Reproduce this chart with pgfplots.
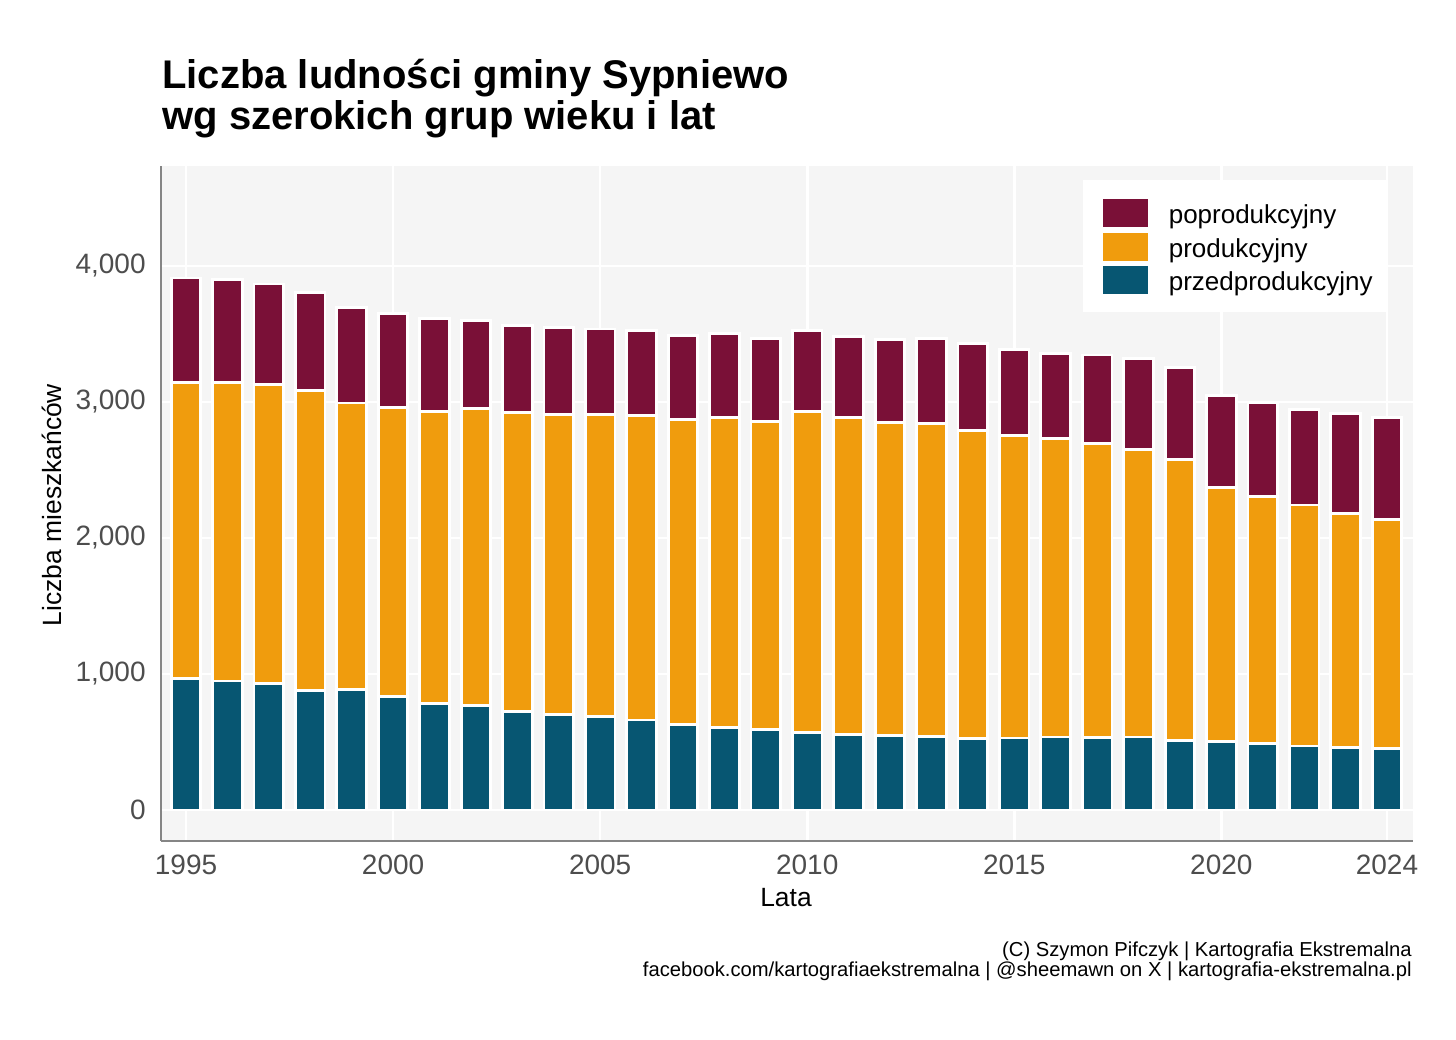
\documentclass[border=0pt]{standalone}
\usepackage{pgfplots}
\pgfplotsset{compat=1.18}
\usepackage{pgfplotstable}
\usepackage{fontspec}
\setmainfont{Liberation Sans}
\definecolor{cpost}{HTML}{7A1037}
\definecolor{cprod}{HTML}{F09C0D}
\definecolor{cpre}{HTML}{075672}
\definecolor{panel}{HTML}{F5F5F5}
\definecolor{axisgray}{HTML}{858585}
\definecolor{ticktext}{HTML}{4D4D4D}

\pgfplotstableread{
year pre prod post
1995 969 2176 766
1996 949 2196 753
1997 929 2201 738
1998 880 2202 723
1999 883 2110 699
2000 834 2123 693
2001 782 2150 679
2002 768 2181 652
2003 724 2196 644
2004 704 2206 635
2005 687 2218 632
2006 662 2241 622
2007 626 2245 615
2008 609 2276 621
2009 589 2269 608
2010 572 2355 596
2011 557 2328 596
2012 547 2304 608
2013 542 2299 623
2014 523 2267 639
2015 530 2226 629
2016 537 2194 627
2017 535 2162 649
2018 537 2113 667
2019 513 2064 674
2020 501 1870 674
2021 491 1813 694
2022 471 1772 704
2023 459 1723 733
2024 451 1684 748
}\data

\begin{document}
\begin{tikzpicture}
\useasboundingbox (0,0) rectangle (728bp,520bp);
\begin{axis}[
  at={(80.5bp,99.5bp)}, anchor=south west,
  width=625.75bp, height=337.5bp, scale only axis,
  xmin=1994.396, xmax=2024.616, ymin=-228, ymax=4735,
  ybar stacked, bar width=14.8bp,
  axis background/.style={fill=panel},
  axis x line*=bottom, axis y line*=left,
  axis line style={draw=axisgray, line width=1bp},
  major tick length=0pt,
  grid=major, major grid style={draw=white, line width=1.3bp},
  xtick={1995,2000,2005,2010,2015,2020,2024},
  xticklabels={1995,2000,2005,2010,2015,2020,2024},
  ytick={0,1000,2000,3000,4000},
  yticklabels={0,{1,000},{2,000},{3,000},{4,000}},
  xticklabel style={font=\fontsize{14bp}{14bp}\selectfont, text=ticktext, inner sep=0pt, anchor=north, yshift=-7bp},
  yticklabel style={font=\fontsize{14bp}{14bp}\selectfont, text=ticktext, inner sep=0pt, anchor=east, xshift=-7.5bp},
  legend style={at={(0.9796,0.9793)}, anchor=north east, draw=none, fill=white,
    inner xsep=7bp, inner ysep=7.7bp,
    font=\fontsize{13bp}{13bp}\selectfont,
    nodes={inner sep=0pt, text height=13.95bp, text depth=2.8bp},
    /tikz/every odd column/.style={column sep=10.5bp}},
  legend cell align=left,
  reverse legend,
]
\addplot[fill=cpre, draw=white, line width=1.4bp,
  legend image code/.code={\path (0bp,0bp); \fill[cpre] (3bp,-6.6bp) rectangle (24bp,5.9bp);}]
  table[x=year, y=pre]{\data};
\addplot[fill=cprod, draw=white, line width=1.4bp,
  legend image code/.code={\path (0bp,0bp); \fill[cprod] (3bp,-6.6bp) rectangle (24bp,5.9bp);}]
  table[x=year, y=prod]{\data};
\addplot[fill=cpost, draw=white, line width=1.4bp,
  legend image code/.code={\path (0bp,0bp); \fill[cpost] (3bp,-6.6bp) rectangle (24bp,5.9bp);}]
  table[x=year, y=post]{\data};
\legend{przedprodukcyjny, produkcyjny, poprodukcyjny}
\end{axis}
\node[anchor=base west, inner sep=0pt, font=\bfseries\fontsize{20bp}{21bp}\selectfont] at (81bp,475.6bp) {Liczba ludności gminy Sypniewo};
\node[anchor=base west, inner sep=0pt, font=\bfseries\fontsize{20bp}{21bp}\selectfont] at (81bp,455bp) {wg szerokich grup wieku i lat};
\node[anchor=center, rotate=90, inner sep=0pt, font=\fontsize{13.2bp}{13bp}\selectfont] at (26bp,267.5bp) {Liczba mieszkańców};
\node[anchor=base, inner sep=0pt, font=\fontsize{13.2bp}{13bp}\selectfont] at (393bp,66.5bp) {Lata};
\node[anchor=base east, inner sep=0pt, font=\fontsize{10.1bp}{10bp}\selectfont] at (706bp,41.7bp) {(C) Szymon Pifczyk | Kartografia Ekstremalna};
\node[anchor=base east, inner sep=0pt, font=\fontsize{10.1bp}{10bp}\selectfont] at (706bp,31.7bp) {facebook.com/kartografiaekstremalna | @sheemawn on X | kartografia-ekstremalna.pl};
\end{tikzpicture}
\end{document}
